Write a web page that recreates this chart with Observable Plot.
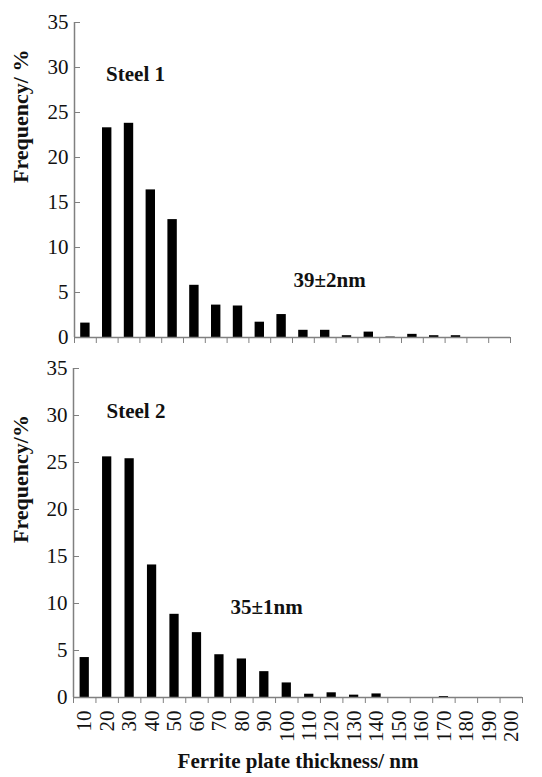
<!DOCTYPE html>
<html><head><meta charset="utf-8">
<script src="https://cdn.jsdelivr.net/npm/d3@7"></script>
<script src="https://cdn.jsdelivr.net/npm/@observablehq/plot@0.6"></script>
<style>
body{margin:0;background:#fff;}
#chart{position:relative;width:542px;height:777px;overflow:hidden;}
#top,#bottom{position:absolute;left:0;}
#top{top:0}
#bottom{top:355px}
#chart svg, #chart svg text{font-family:"Liberation Serif", Tinos, "Times New Roman", "DejaVu Serif", serif !important;}
</style></head><body><div id="chart"><div id="top"></div><div id="bottom"></div></div>
<script>
// Data
const thickness = [10,20,30,40,50,60,70,80,90,100,110,120,130,140,150,160,170,180,190,200];
const steel1 = [1.6,23.3,23.8,16.4,13.1,5.8,3.6,3.5,1.7,2.55,0.8,0.8,0.2,0.6,0.05,0.35,0.2,0.2,0,0];
const steel2 = [4.25,25.6,25.4,14.1,8.85,6.9,4.55,4.1,2.75,1.55,0.35,0.5,0.25,0.38,0,0,0.1,0,0,0];
const yTicks = [0,5,10,15,20,25,30,35];
const binEdges = [5,15,25,35,45,55,65,75,85,95,105,115,125,135,145,155,165,175,185,195,205];
const panelTitles = ["Steel 1","Steel 2"];
const meanLabels = ["39\u00b12nm","35\u00b11nm"];
const yLabels = ["Frequency/ %","Frequency/%"];
const xTitle = "Ferrite plate thickness/ nm";

const axisGray = "#808080";
const textCol = "#111";
const serif = "'Liberation Serif', Tinos, 'Times New Roman', 'DejaVu Serif', serif";

function panel({values, title, titlePos, mean, meanPos, yLabel, height, marginTop, marginBottom, marginLeft, marginRight, barInset, yLabelDy, showXLabels}) {
  const data = thickness.map((t,i) => ({t, f: values[i]}));
  const marks = [
    Plot.rectY(data, {x1: d => d.t - 5, x2: d => d.t + 5, y: "f", fill: "#000", insetLeft: barInset, insetRight: barInset}),
    Plot.ruleX([binEdges[0]], {stroke: axisGray, strokeWidth: 1.5}),
    Plot.ruleY([0], {stroke: axisGray, strokeWidth: 1.5}),
    Plot.axisY(yTicks, {tickSize: -6, tickPadding: 12, stroke: axisGray, fill: textCol, label: null, fontSize: 21, fontFamily: serif}),
    Plot.axisX(binEdges, {tickSize: 6, tickFormat: () => "", stroke: axisGray, label: null}),
    Plot.text([{label: title, x: titlePos[0], y: titlePos[1]}], {x: "x", y: "y", text: "label", textAnchor: "start", fontWeight: "bold", fontSize: 21, fontFamily: serif, fill: textCol}),
    Plot.text([{label: mean, x: meanPos[0], y: meanPos[1]}], {x: "x", y: "y", text: "label", fontWeight: "bold", fontSize: 21, fontFamily: serif, fill: textCol}),
    Plot.text([yLabel], {text: d => d, frameAnchor: "left", rotate: -90, dx: -(marginLeft - 20), dy: yLabelDy, fontWeight: "bold", fontSize: 22, fontFamily: serif, fill: textCol})
  ];
  if (showXLabels) {
    marks.push(Plot.axisX(thickness, {tickSize: 0, tickPadding: 13, tickRotate: -90, stroke: "none", fill: textCol, label: null, fontSize: 21, fontFamily: serif}));
    marks.push(Plot.text([xTitle], {text: d => d, frameAnchor: "bottom", dy: 70, fontWeight: "bold", fontSize: 21, fontFamily: serif, fill: textCol}));
  }
  return Plot.plot({
    width: 542, height, marginTop, marginBottom, marginLeft, marginRight,
    style: {fontFamily: serif, fontSize: "21px", background: "transparent", overflow: "visible", color: textCol},
    x: {type: "linear", domain: [binEdges[0], binEdges[binEdges.length-1]]},
    y: {domain: [0, 35]},
    marks
  });
}

document.getElementById("top").appendChild(panel({
  values: steel1, title: panelTitles[0], titlePos: [19.5, 29.3], mean: meanLabels[0], meanPos: [122, 6.4],
  yLabel: yLabels[0], height: 355, marginTop: 22, marginBottom: 18, marginLeft: 74, marginRight: 32,
  barInset: 6.2, yLabelDy: 3, showXLabels: false
}));
document.getElementById("bottom").appendChild(panel({
  values: steel2, title: panelTitles[1], titlePos: [19.7, 30.5], mean: meanLabels[1], meanPos: [91, 9.6],
  yLabel: yLabels[1], height: 422, marginTop: 13, marginBottom: 80, marginLeft: 73, marginRight: 20,
  barInset: 6.6, yLabelDy: 10, showXLabels: true
}));
</script></body></html>
